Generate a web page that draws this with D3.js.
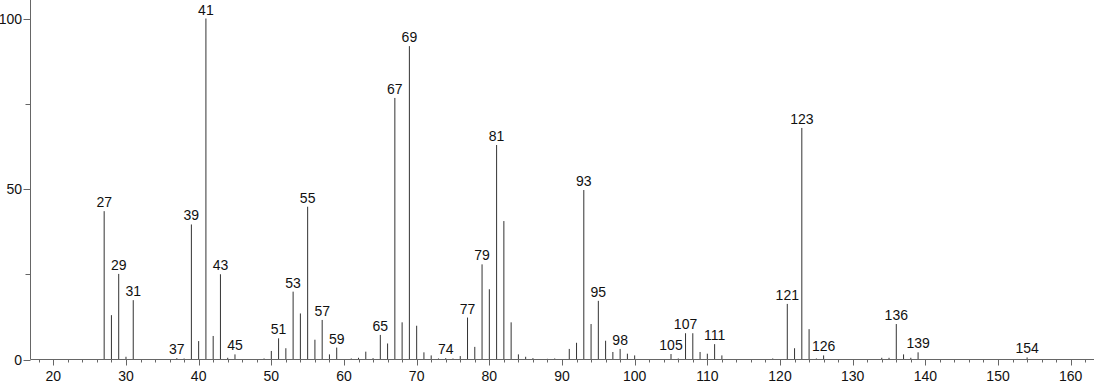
<!DOCTYPE html>
<html><head><meta charset="utf-8">
<script src="https://cdn.jsdelivr.net/npm/d3@7"></script>
<style>html,body{margin:0;padding:0;background:#fff;}svg{display:block;}</style>
</head><body>
<svg id="chart" width="1094" height="384"></svg>
<script>
const mzValues = [27,28,29,30,31,37,38,39,40,41,42,43,44,45,49,50,51,52,53,54,55,56,57,58,59,61,62,63,64,65,66,67,68,69,70,71,72,73,74,75,76,77,78,79,80,81,82,83,84,85,86,88,89,91,92,93,94,95,96,97,98,99,100,105,106,107,108,109,110,111,112,119,121,122,123,124,125,126,134,135,136,137,138,139,154];
const intensities = [43.5,13.0,25.1,0.8,17.4,0.4,0.3,39.6,5.4,100,6.9,25.0,0.5,1.5,0.3,2.5,6.2,3.3,19.9,13.5,44.8,5.8,11.6,1.5,3.5,0.3,0.5,2.3,0.4,7.2,4.7,76.7,10.9,91.9,9.9,2.1,1.2,0.3,0.4,0.3,1.0,12.3,3.7,27.9,20.6,62.9,40.6,10.9,1.5,0.8,0.4,0.2,0.3,3.1,4.9,49.7,10.4,17.2,5.5,2.2,3.1,1.7,1.2,1.6,0.3,7.7,7.7,2.2,1.7,4.5,1.2,0.3,16.3,3.3,67.9,8.9,0.3,1.2,0.5,0.5,10.4,1.5,0.5,2.1,0.6];
const labeledPeaks = [27,29,31,37,39,41,43,45,51,53,55,57,59,65,67,69,74,77,79,81,93,95,98,105,107,111,121,123,126,136,139,154];
const xMajorTicks = [20,30,40,50,60,70,80,90,100,110,120,130,140,150,160];
const yMajorTicks = [0,50,100];
const yMinorTicks = [25,75];

const peaks = mzValues.map((m,i)=>({mz:m, v:intensities[i]}));
const svg = d3.select("#chart");
const font = "Liberation Sans, Arial, sans-serif";

const x = d3.scaleLinear().domain([20,160]).range([53.3,1070.7]);
const y = d3.scaleLinear().domain([0,100]).range([359.5,18.5]);
const x0 = 30.5, xEnd = 1094;
const axisColor = "#666";

// peaks
svg.append("g").selectAll("line").data(peaks).join("line")
  .attr("x1", d=>x(d.mz)).attr("x2", d=>x(d.mz))
  .attr("y1", y(0)).attr("y2", d=>y(d.v))
  .attr("stroke", "#333").attr("stroke-width", 1);

// x axis
const gx = svg.append("g");
gx.append("line").attr("x1", x0).attr("x2", xEnd).attr("y1", y(0)).attr("y2", y(0)).attr("stroke", axisColor);
const minor = d3.range(18, 163, 2).filter(v=>v%10!==0);
gx.selectAll("line.minor").data(minor).join("line").attr("class","minor")
  .attr("x1", d=>Math.round(x(d))+0.5).attr("x2", d=>Math.round(x(d))+0.5)
  .attr("y1", y(0)).attr("y2", y(0)+3).attr("stroke", axisColor);
gx.selectAll("line.major").data(xMajorTicks).join("line").attr("class","major")
  .attr("x1", d=>Math.round(x(d))+0.5).attr("x2", d=>Math.round(x(d))+0.5)
  .attr("y1", y(0)).attr("y2", y(0)+6).attr("stroke", axisColor);
gx.selectAll("text").data(xMajorTicks).join("text")
  .attr("x", d=>x(d)).attr("y", 381)
  .attr("text-anchor","middle").attr("font-family",font).attr("font-size",14).attr("fill","#111")
  .text(d=>d);

// y axis
const gy = svg.append("g");
gy.append("line").attr("x1", x0).attr("x2", x0).attr("y1", y(0)).attr("y2", 0).attr("stroke", axisColor);
gy.selectAll("line.major").data(yMajorTicks).join("line").attr("class","major")
  .attr("x1", x0-7).attr("x2", x0).attr("y1", d=>Math.round(y(d))+0.5).attr("y2", d=>Math.round(y(d))+0.5).attr("stroke", axisColor);
gy.selectAll("line.minor").data(yMinorTicks).join("line").attr("class","minor")
  .attr("x1", x0-5).attr("x2", x0).attr("y1", d=>Math.round(y(d))+0.5).attr("y2", d=>Math.round(y(d))+0.5).attr("stroke", axisColor);
gy.selectAll("text").data(yMajorTicks).join("text")
  .attr("x", 22).attr("y", d=>y(d)+5)
  .attr("text-anchor","end").attr("font-family",font).attr("font-size",14).attr("fill","#111")
  .text(d=>d);

// peak labels
const labeled = peaks.filter(p=>labeledPeaks.includes(p.mz));
svg.append("g").selectAll("text").data(labeled).join("text")
  .attr("x", d=>x(d.mz)).attr("y", d=>y(d.v)-4)
  .attr("text-anchor","middle").attr("font-family",font).attr("font-size",14).attr("fill","#111")
  .text(d=>d.mz);
</script>
</body></html>
